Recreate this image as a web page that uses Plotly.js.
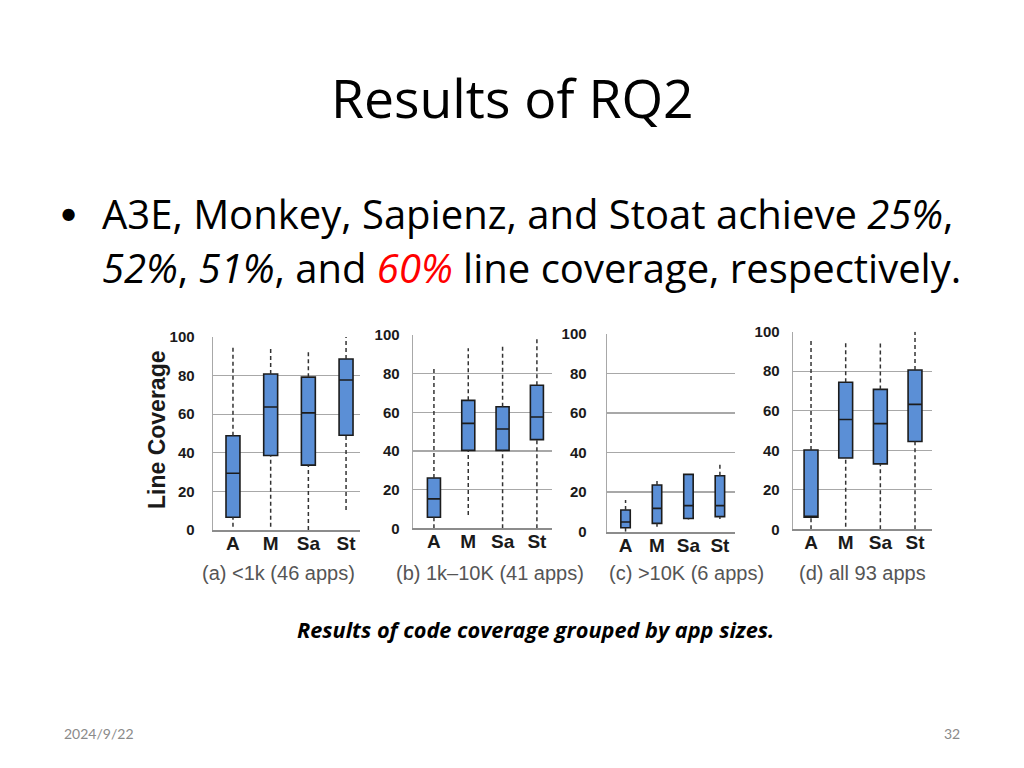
<!DOCTYPE html>
<html>
<head>
<meta charset="utf-8">
<script src="https://cdn.plot.ly/plotly-3.0.1.min.js"></script>
<style>
  html, body { margin: 0; padding: 0; background: #fff; }
  #slide { width: 1024px; height: 768px; }
</style>
</head>
<body>
<div id="slide"></div>
<script>
var categories = ['A', 'M', 'Sa', 'St'];

// (a) <1k
var lowA = [1.7, 1.7, 0, 10.4];
var q1A = [6.6, 38.6, 33.6, 49.1];
var medA = [29.4, 63.7, 60.7, 77.7];
var q3A = [48.8, 80.8, 79.2, 88.6];
var highA = [96, 94.8, 92.2, 100];

// (b) 1k-10K
var lowB = [0, 6.9, 0, 0];
var q1B = [5.7, 40.3, 40.3, 45.9];
var medB = [15.2, 54.3, 51.4, 57.6];
var q3B = [26, 66.2, 62.9, 74];
var highB = [82.8, 93.1, 94.8, 97.8];

// (c) >10K
var lowC = [0, 2.5, 6.2, 6.4];
var q1C = [2, 4.2, 6.7, 7.6];
var medC = [4.9, 11.8, 13.2, 13.2];
var q3C = [11, 23.6, 29, 28.3];
var highC = [16, 26, 29, 34.6];

// (d) all apps
var lowD = [0, 1.3, 0, 0];
var q1D = [6.1, 36.1, 33.1, 44.4];
var medD = [6.3, 55.6, 53.5, 63.2];
var q3D = [40.1, 74.4, 70.8, 80.6];
var highD = [95.8, 95.4, 94.4, 100];

var panelLabels = ['(a) <1k (46 apps)', '(b) 1k\u201310K (41 apps)', '(c) >10K (6 apps)', '(d) all 93 apps'];

var W = 1024, H = 768;
function px(x) { return x / W; }
function py(y) { return 1 - y / H; }

var panels = [
    {low: lowA, q1: q1A, med: medA, q3: q3A, high: highA, xd: [213, 360], yd: [530, 337], xr: [-0.53, 3.37], bw: 0.37, stand: 14, lab: 278},
    {low: lowB, q1: q1B, med: medB, q3: q3B, high: highB, xd: [413, 552], yd: [528.3, 335], xr: [-0.61, 3.44], bw: 0.38, stand: 9, lab: 490},
    {low: lowC, q1: q1C, med: medC, q3: q3C, high: highC, xd: [607, 735], yd: [531.7, 334], xr: [-0.59, 3.48], bw: 0.3, stand: 16, lab: 686},
    {low: lowD, q1: q1D, med: medD, q3: q3D, high: highD, xd: [793, 932], yd: [529.3, 331.7], xr: [-0.52, 3.49], bw: 0.4, stand: 9, lab: 862}
];

var traces = [];
var layout = {
    width: W,
    height: H,
    margin: {t: 0, r: 0, b: 0, l: 0},
    paper_bgcolor: '#fff',
    plot_bgcolor: 'rgba(0,0,0,0)',
    showlegend: false,
    hovermode: false,
    annotations: []
};

for (let i = 0; i < panels.length; i++) {
    let p = panels[i];
    let n = i === 0 ? '' : String(i + 1);
    let xa = 'x' + n, ya = 'y' + n;

    // dashed whiskers
    let wx = [], wy = [];
    for (let k = 0; k < categories.length; k++) {
        wx.push(categories[k], categories[k], null, categories[k], categories[k], null);
        wy.push(p.low[k], p.q1[k], null, p.q3[k], p.high[k], null);
    }
    traces.push({
        type: 'scatter', mode: 'lines', x: wx, y: wy, xaxis: xa, yaxis: ya,
        connectgaps: false,
        line: {color: '#333', width: 1.5, dash: '4px,3px'}
    });

    traces.push({
        type: 'box', x: categories, xaxis: xa, yaxis: ya,
        q1: p.q1, median: p.med, q3: p.q3,
        lowerfence: p.q1, upperfence: p.q3,
        width: p.bw,
        fillcolor: '#5B8FD6',
        line: {color: '#1c1c1c', width: 1.6},
        boxpoints: false
    });

    layout['xaxis' + n] = {
        domain: [px(p.xd[0]), px(p.xd[1])],
        anchor: ya,
        type: 'category',
        range: p.xr,
        showgrid: false,
        zeroline: false,
        showline: true,
        linecolor: '#8c8c8c',
        linewidth: 2,
        ticks: '',
        ticklabelstandoff: -5,
        tickfont: {family: 'Liberation Sans, Arial', size: 19, color: '#1a1a1a', weight: 'bold'}
    };
    layout['yaxis' + n] = {
        domain: [py(p.yd[0]), py(p.yd[1])],
        anchor: xa,
        range: [0, 100],
        tickvals: [0, 20, 40, 60, 80, 100],
        showgrid: true,
        gridcolor: '#a8a8a8',
        gridwidth: 1.4,
        zeroline: false,
        showline: true,
        linecolor: '#a8a8a8',
        linewidth: 1.4,
        ticks: '',
        ticklabelstandoff: p.stand,
        tickfont: {family: 'Liberation Sans, Arial', size: 15, color: '#1a1a1a', weight: 'bold'}
    };

    layout.annotations.push({
        xref: 'paper', yref: 'paper', x: px(p.lab), y: py(573),
        xanchor: 'center', yanchor: 'middle', showarrow: false,
        text: panelLabels[i],
        font: {family: 'Liberation Sans, Arial', size: 20, color: '#555'}
    });
}

var slideFont = 'Open Sans, Lato, sans-serif';
layout.annotations.push(
    {xref: 'paper', yref: 'paper', x: px(512), y: py(97), xanchor: 'center', yanchor: 'middle', showarrow: false,
     text: 'Results of RQ2', font: {family: slideFont, size: 53.5, color: '#000'}},
    {xref: 'paper', yref: 'paper', x: px(68), y: py(212), xanchor: 'center', yanchor: 'middle', showarrow: false,
     text: '\u2022', font: {family: 'Lato, sans-serif', size: 33, color: '#000'}},
    {xref: 'paper', yref: 'paper', x: px(100), y: py(213), xanchor: 'left', yanchor: 'middle', showarrow: false,
     text: 'A3E, Monkey, Sapienz, and Stoat achieve <i>25%</i>,', font: {family: slideFont, size: 40, color: '#000'}},
    {xref: 'paper', yref: 'paper', x: px(100), y: py(268), xanchor: 'left', yanchor: 'middle', showarrow: false,
     text: '<i>52%</i>, <i>51%</i>, and <i><span style="color:#ff0000">60%</span></i> line coverage, respectively.',
     font: {family: slideFont, size: 40, color: '#000'}},
    {xref: 'paper', yref: 'paper', x: px(157), y: py(430), xanchor: 'center', yanchor: 'middle', showarrow: false,
     textangle: -90, text: 'Line Coverage', font: {family: 'Liberation Sans, Arial', size: 23, color: '#1a1a1a', weight: 'bold'}},
    {xref: 'paper', yref: 'paper', x: px(535), y: py(629), xanchor: 'center', yanchor: 'middle', showarrow: false,
     text: '<b><i>Results of code coverage grouped by app sizes.</i></b>', font: {family: slideFont, size: 21.7, color: '#000'}},
    {xref: 'paper', yref: 'paper', x: px(62), y: py(733), xanchor: 'left', yanchor: 'middle', showarrow: false,
     text: '2024/9/22', font: {family: 'Lato, sans-serif', size: 14, color: '#8a8a8a'}},
    {xref: 'paper', yref: 'paper', x: px(962), y: py(733), xanchor: 'right', yanchor: 'middle', showarrow: false,
     text: '32', font: {family: 'Lato, sans-serif', size: 14, color: '#8a8a8a'}}
);

Plotly.newPlot('slide', traces, layout, {staticPlot: true});
</script>
</body>
</html>
